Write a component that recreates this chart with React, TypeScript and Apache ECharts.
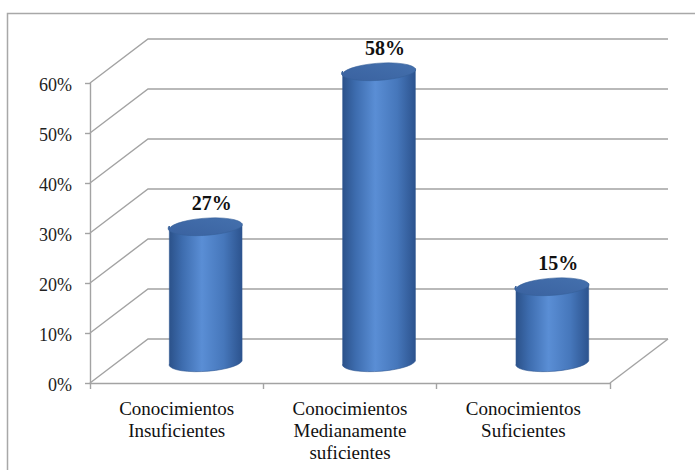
import React, { useEffect, useRef } from "react";
import * as echarts from "echarts";

// Survey results: level of knowledge
const categories = [
  "Conocimientos\nInsuficientes",
  "Conocimientos\nMedianamente\nsuficientes",
  "Conocimientos\nSuficientes",
];
const values = [0.27, 0.58, 0.15];
const valueLabels = ["27%", "58%", "15%"];
const yTicks = [0, 0.1, 0.2, 0.3, 0.4, 0.5, 0.6];
const yTickLabels = ["0%", "10%", "20%", "30%", "40%", "50%", "60%"];

// depth offset of the back wall (pixels)
const DX = 58;
const DY = -44;
const SERIF = "Liberation Serif";
const GRID_COLOR = "#a3a3a3";

export default function App() {
  const ref = useRef<HTMLDivElement>(null);

  useEffect(() => {
    if (!ref.current) return;
    const chart = echarts.init(ref.current, null, { renderer: "svg" });

    // side wall, back wall and floor edges, plus the value-axis labels
    const wallSeries = {
      type: "custom",
      silent: true,
      clip: false,
      z: 1,
      data: yTicks.map((v, k) => [0, v, k]),
      renderItem: (params: any, api: any) => {
        const cs = params.coordSys;
        const v = api.value(1);
        const k = api.value(2);
        const y = api.coord([0, v])[1];
        const x0 = cs.x;
        const x1 = cs.x + cs.width;
        const children: any[] = [
          {
            type: "polyline",
            shape: {
              points: [
                [x0, y],
                [x0 + DX, y + DY],
                [x1 + DX, y + DY],
              ],
            },
            style: { stroke: GRID_COLOR, lineWidth: 1.4, fill: "none" },
          },
          {
            type: "text",
            style: {
              x: x0 - 18,
              y: y + 2,
              text: yTickLabels[k],
              fill: "#222",
              fontFamily: SERIF,
              fontSize: 18,
              align: "right",
              verticalAlign: "middle",
            },
          },
        ];
        if (v === 0) {
          children.push({
            type: "line",
            shape: { x1: x1, y1: y, x2: x1 + DX, y2: y + DY },
            style: { stroke: GRID_COLOR, lineWidth: 1.4 },
          });
        }
        return { type: "group", children };
      },
    };

    const cylinderSeries = {
      type: "custom",
      clip: false,
      z: 3,
      data: values.map((v, i) => [i, v]),
      renderItem: (params: any, api: any) => {
        const i = api.value(0);
        const v = api.value(1);
        const base = api.coord([i, 0]);
        const top = api.coord([i, v]);
        const rx = (api.size([1, 0])[0] * 0.42) / 2;
        const ry = 9;
        const cx = base[0] + DX / 2;
        const by = base[1] + DY / 2;
        const ty = top[1] + DY / 2;
        const phi = -4; // tilt of the ellipses, degrees
        const ux = rx * Math.cos((phi * Math.PI) / 180);
        const uy = rx * Math.sin((phi * Math.PI) / 180);
        const body =
          `M ${cx - ux} ${ty - uy} L ${cx - ux} ${by - uy} ` +
          `A ${rx} ${ry} ${phi} 0 0 ${cx + ux} ${by + uy} ` +
          `L ${cx + ux} ${ty + uy} ` +
          `A ${rx} ${ry} ${phi} 0 1 ${cx - ux} ${ty - uy} Z`;
        const cap =
          `M ${cx - ux} ${ty - uy} ` +
          `A ${rx} ${ry} ${phi} 0 1 ${cx + ux} ${ty + uy} ` +
          `A ${rx} ${ry} ${phi} 0 1 ${cx - ux} ${ty - uy} Z`;
        return {
          type: "group",
          children: [
            {
              type: "path",
              shape: { pathData: body },
              style: {
                fill: new echarts.graphic.LinearGradient(0, 0, 1, 0, [
                  { offset: 0, color: "#2b5189" },
                  { offset: 0.18, color: "#3d6cae" },
                  { offset: 0.45, color: "#5a8ed5" },
                  { offset: 0.75, color: "#4677bb" },
                  { offset: 1, color: "#2c538e" },
                ]),
                stroke: "#2d5690",
                lineWidth: 0.6,
              },
            },
            {
              type: "path",
              shape: { pathData: cap },
              style: {
                fill: new echarts.graphic.LinearGradient(0, 1, 1, 0, [
                  { offset: 0, color: "#3a62a0" },
                  { offset: 1, color: "#4470ad" },
                ]),
                stroke: "#365f99",
                lineWidth: 0.6,
              },
            },
            {
              type: "text",
              style: {
                x: cx + 6,
                y: ty - 23,
                text: valueLabels[i],
                fill: "#111",
                fontFamily: SERIF,
                fontSize: 20,
                fontWeight: "bold",
                align: "center",
                verticalAlign: "middle",
              },
            },
          ],
        };
      },
    };

    chart.setOption({
      animation: false,
      backgroundColor: "#ffffff",
      grid: { left: 90, top: 83, width: 520, height: 300 },
      graphic: [
        {
          type: "polyline",
          silent: true,
          shape: {
            points: [
              [7.5, 470],
              [7.5, 13.5],
              [695, 13.5],
            ],
          },
          style: { stroke: "#a8a8a8", lineWidth: 1.5, fill: "none" },
        },
      ],
      xAxis: {
        type: "category",
        data: categories,
        boundaryGap: true,
        axisLine: { show: true, lineStyle: { color: GRID_COLOR, width: 1.4 } },
        axisTick: { show: true, length: 6, lineStyle: { color: GRID_COLOR, width: 1.4 } },
        axisLabel: {
          fontFamily: SERIF,
          fontSize: 19,
          lineHeight: 22,
          color: "#111",
          margin: 14,
          interval: 0,
        },
        splitLine: { show: false },
      },
      yAxis: {
        type: "value",
        min: 0,
        max: 0.6,
        interval: 0.1,
        axisLine: { show: true, lineStyle: { color: GRID_COLOR, width: 1.4 } },
        axisTick: { show: true, length: 5, lineStyle: { color: GRID_COLOR, width: 1.4 } },
        axisLabel: { show: false },
        splitLine: { show: false },
      },
      series: [wallSeries, cylinderSeries],
    });

    return () => chart.dispose();
  }, []);

  return (
    <div
      ref={ref}
      style={{ position: "fixed", left: 0, top: 0, width: 695, height: 470 }}
    />
  );
}
